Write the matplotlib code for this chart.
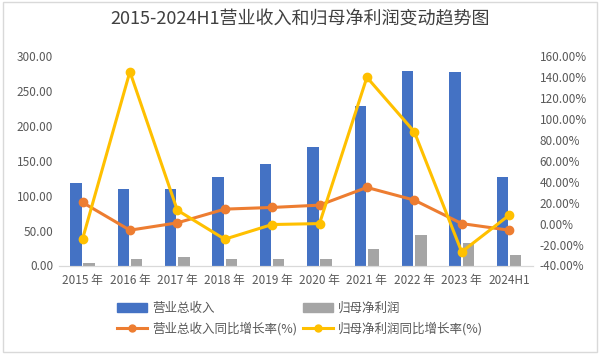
import matplotlib
matplotlib.use('Agg')
import matplotlib.pyplot as plt
import matplotlib.patches as patches
from matplotlib.lines import Line2D
import numpy as np

plt.rcParams['font.family'] = ['Noto Sans CJK SC', 'DejaVu Sans']

# data
years = ['2015 年', '2016 年', '2017 年', '2018 年', '2019 年',
         '2020 年', '2021 年', '2022 年', '2023 年', '2024H1']
revenue = [118, 110, 110, 126, 145, 170, 228, 279, 277, 126]
net_profit = [4, 9.5, 12, 9.5, 9.5, 9.5, 23, 43, 31.5, 15]
revenue_yoy = [20.2, -6.3, 0.7, 13.8, 15.4, 17.6, 34.5, 22.4, 0.0, -6.3]
profit_yoy = [-14.9, 145, 12.8, -14.9, -0.9, 0.0, 139.6, 87.6, -27, 8]

blue = '#4472C4'
grey = '#A5A5A5'
orange = '#ED7D31'
yellow = '#FFC000'
txt = '#595959'

fig = plt.figure(figsize=(6, 3.54), dpi=100)
ax = fig.add_axes([0.098, 0.25, 0.79, 0.592])
ax2 = ax.twinx()

x = np.arange(len(years))
w = 0.24
ax.bar(x - 0.14, revenue, w, color=blue, zorder=2)
ax.bar(x + 0.14, net_profit, w, color=grey, zorder=2)

ax2.plot(x, revenue_yoy, color=orange, lw=2.2, marker='o', ms=6, zorder=3)
ax2.plot(x, profit_yoy, color=yellow, lw=2.2, marker='o', ms=6, zorder=4)

ax.set_xlim(-0.5, len(years) - 0.5)
ax.set_ylim(0, 300)
ax.set_yticks(np.arange(0, 301, 50))
ax.set_yticklabels([f'{v:.2f}' for v in np.arange(0, 301, 50)])
ax2.set_ylim(-40, 160)
ax2.set_yticks(np.arange(-40, 161, 20))
ax2.set_yticklabels([f'{v:.2f}%' for v in np.arange(-40, 161, 20)])
ax.set_xticks(x)
ax.set_xticklabels(years)

for a in (ax, ax2):
    for s in ('top', 'left', 'right'):
        a.spines[s].set_visible(False)
    a.spines['bottom'].set_color('#D9D9D9')
    a.tick_params(length=0, labelsize=8.5, colors=txt)
ax.tick_params(axis='x', pad=6)
ax.tick_params(axis='y', pad=4)
ax2.tick_params(axis='y', pad=5)

fig.text(0.5, 0.945, '2015-2024H1营业收入和归母净利润变动趋势图',
         ha='center', va='center', fontsize=13, color='#404040')

# matplotlib fills legend column by column
handles = [patches.Patch(color=blue),
           Line2D([], [], color=orange, lw=2.2, marker='o', ms=5),
           patches.Patch(color=grey),
           Line2D([], [], color=yellow, lw=2.2, marker='o', ms=5)]
labels = ['营业总收入', '营业总收入同比增长率(%)', '归母净利润', '归母净利润同比增长率(%)']
fig.legend(handles, labels, ncol=2, loc='center', bbox_to_anchor=(0.5, 0.1),
           frameon=False, fontsize=9, labelcolor=txt, columnspacing=0.5,
           handlelength=2.4, handletextpad=0.4, labelspacing=0.5)

fig.add_artist(patches.Rectangle((0.005, 0.005), 0.99, 0.99, transform=fig.transFigure,
                                 fill=False, edgecolor='#D9D9D9', lw=1))

fig.savefig('out.png', dpi=100)
